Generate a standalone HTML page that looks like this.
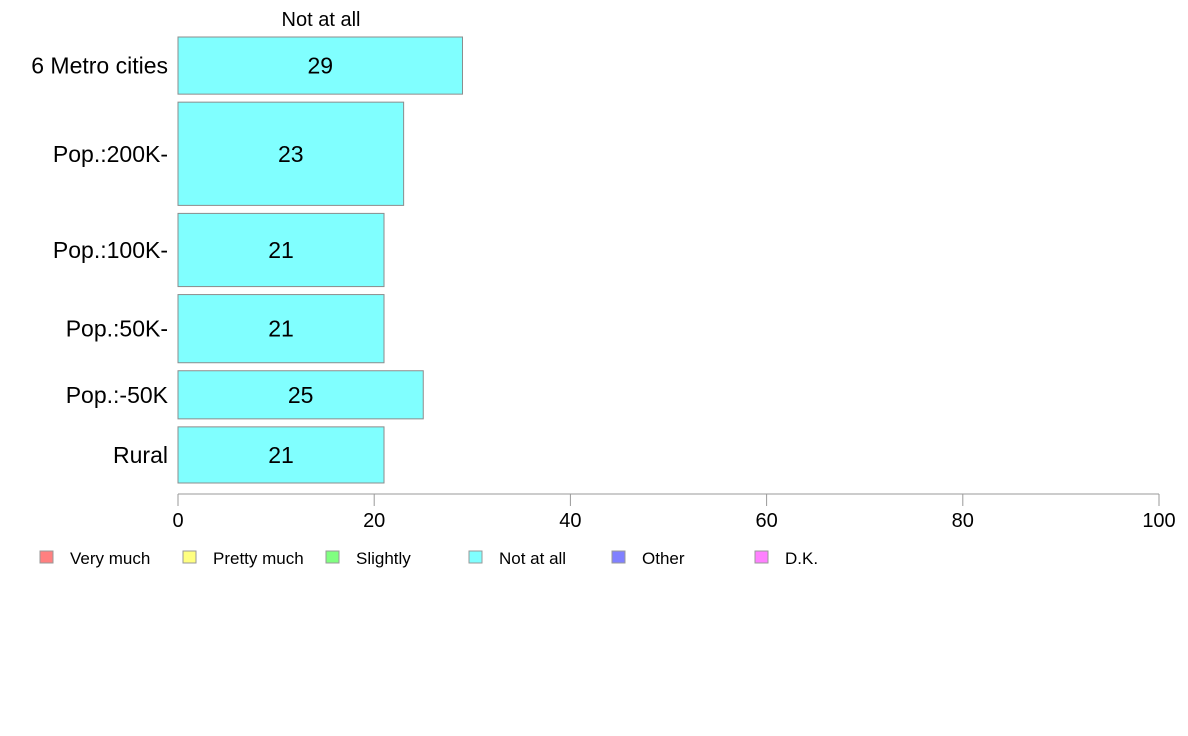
<!DOCTYPE html>
<html><head><meta charset="utf-8">
<style>
html,body{margin:0;padding:0;background:#fff;}
svg{display:block;font-family:"Liberation Sans",Arial,sans-serif;}
</style></head>
<body>
<svg id="chart" width="1188" height="736" viewBox="0 0 1188 736" xmlns="http://www.w3.org/2000/svg">
<text x="321" y="26" font-size="20" text-anchor="middle">Not at all</text>
<g id="bars"></g>
<g id="axis"></g>
<g id="legend"></g>
</svg>
<script>
const categories = ["6 Metro cities","Pop.:200K-","Pop.:100K-","Pop.:50K-","Pop.:-50K","Rural"];
const values = [29,23,21,21,25,21];
const barWeights = [57,103,73,68,48,56];
const ticks = [0,20,40,60,80,100];
const legendLabels = ["Very much","Pretty much","Slightly","Not at all","Other","D.K."];
const legendColors = ["#ff8080","#ffff80","#80ff80","#80ffff","#8080ff","#ff80ff"];

const NS="http://www.w3.org/2000/svg";
const x0=178, x1=1159, yTop=37, yBot=483, gap=8;
const xs=v=>x0+(v/100)*(x1-x0);
function mk(tag,attrs,parent){const e=document.createElementNS(NS,tag);for(const k in attrs)e.setAttribute(k,attrs[k]);parent.appendChild(e);return e;}

const bars=document.getElementById('bars');
const totalW=barWeights.reduce((a,b)=>a+b,0);
const avail=(yBot-yTop)-gap*(categories.length-1);
let y=yTop;
categories.forEach((c,i)=>{
  const h=avail*barWeights[i]/totalW;
  const r=mk('rect',{x:x0,y:y,width:xs(values[i])-x0,height:h,fill:"#80ffff",stroke:"#8c8c8c","stroke-width":1},bars);
  
  
  const t=mk('text',{x:(x0+xs(values[i]))/2,y:y+h/2+8,"font-size":23,"text-anchor":"middle"},bars);
  t.textContent=values[i];
  
  
  const l=mk('text',{x:168,y:y+h/2+8,"font-size":23,"text-anchor":"end"},bars);
  l.textContent=c;
  
  
  y+=h+gap;
});

const axis=document.getElementById('axis');
const al=mk('line',{x1:x0,x2:x1,y1:494,y2:494,stroke:"#999","stroke-width":1},axis);


ticks.forEach(v=>{
  const tl=mk('line',{x1:xs(v),x2:xs(v),y1:494,y2:506,stroke:"#999","stroke-width":1},axis);
  
  
  const tt=mk('text',{x:xs(v),y:527,"font-size":20,"text-anchor":"middle"},axis);
  tt.textContent=v;
  
  
});

const legend=document.getElementById('legend');
legendLabels.forEach((lab,i)=>{
  const lx=40+i*143;
  const s=mk('rect',{x:lx,y:551,width:13,height:12,fill:legendColors[i],stroke:"#999","stroke-width":1},legend);
  
  
  const t=mk('text',{x:lx+30,y:564,"font-size":17},legend);
  t.textContent=lab;
  
  
});
</script>
</body></html>
